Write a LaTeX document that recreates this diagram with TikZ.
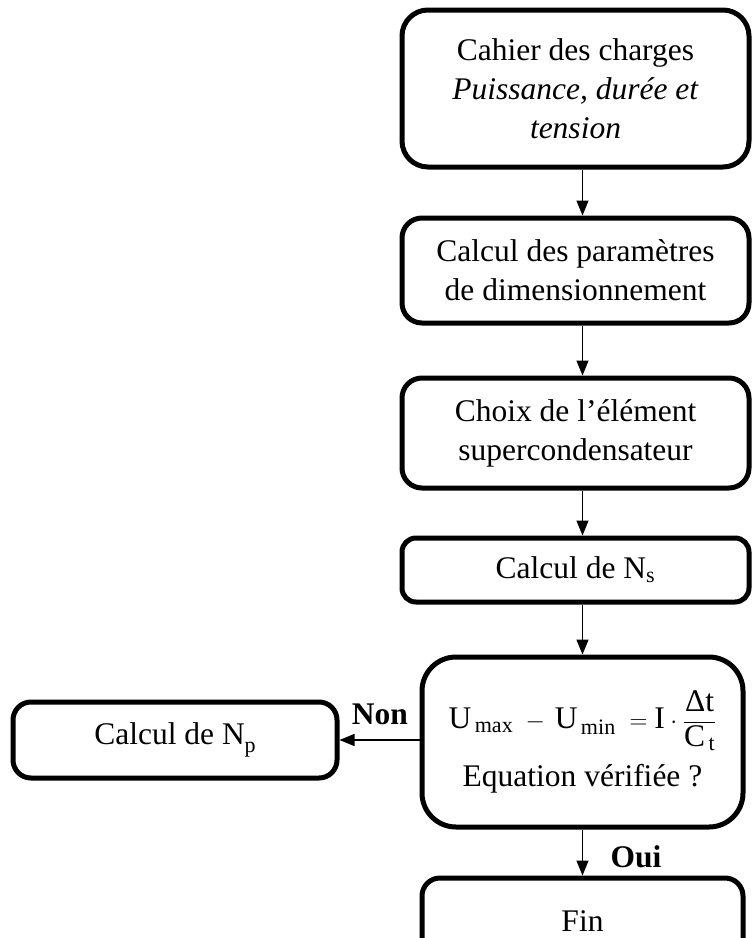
\documentclass[tikz,border=0pt]{standalone}
\usepackage{fontspec}
\usepackage{amsmath}
\setmainfont{Liberation Serif}
\usetikzlibrary{arrows.meta}

\begin{document}
\begin{tikzpicture}[x=1pt,y=-1pt,line join=round,line cap=round]
            \tikzset{hop/.style={draw=black,line width=5pt,rounded corners=20pt,
                    align=center,inner sep=0pt,font=\fontsize{31.5}{39}\selectfont}}
            \tikzset{muiten/.style={line width=1.4pt,line cap=butt,-{Triangle[length=15pt,width=12pt]}}}
            \tikzset{nhan/.style={font=\fontsize{31.5}{38}\selectfont\bfseries}}
            \useasboundingbox (0,0) rectangle (752,938);
            \clip (0,0) rectangle (752,938);
            \node[hop,minimum width=347pt,minimum height=157pt,rounded corners=26pt] (cahier) at (575.5,88.5)
            {Cahier des charges\\ \textit{Puissance, durée et}\\ \textit{tension}};
            \node[hop,minimum width=347pt,minimum height=105pt] (param) at (575.5,270.5)
            {Calcul des paramètres\\ de dimensionnement};
            \node[hop,minimum width=347pt,minimum height=110pt] (choix) at (575.5,433)
            {Choix de l’élément\\ supercondensateur};
            \node[hop,minimum width=347pt,minimum height=64pt,rounded corners=14pt] (ns) at (575.5,570)
            {Calcul de N\textsubscript{s}};
            \node[hop,minimum width=321pt,minimum height=170pt,rounded corners=34pt] (verif) at (582.5,742)
            {$\text{U}_{\,\text{max}}\;-\,\text{U}_{\,\text{min}}\;=\text{I}\cdot\dfrac{\text{Δt}}{\text{C}_{\,\text{t}}}$\\[12pt]
             Equation vérifiée ?};
            \node[hop,minimum width=321pt,minimum height=86pt,rounded corners=18pt] (fin) at (582.5,921) {Fin};
            \node[hop,minimum width=324pt,minimum height=76pt,rounded corners=18pt] (np) at (175,740)
            {Calcul de N\raisebox{-.6ex}{\fontsize{22}{22}\selectfont p}};
            % fleches
            \draw[muiten] (cahier.south -| verif.north) -- (param.north -| verif.north);
            \draw[muiten] (param.south -| verif.north) -- (choix.north -| verif.north);
            \draw[muiten] (choix.south -| verif.north) -- (ns.north -| verif.north);
            \draw[muiten] (ns.south -| verif.north) -- (verif.north);
            \draw[muiten] (verif.south) -- (fin.north);
            \draw[muiten] (verif.west |- np.east) -- (np.east);
            \node[nhan] (non) at (380,714) {Non};
            \node[nhan] (oui) at (636,857) {Oui};
\end{tikzpicture}
\end{document}
